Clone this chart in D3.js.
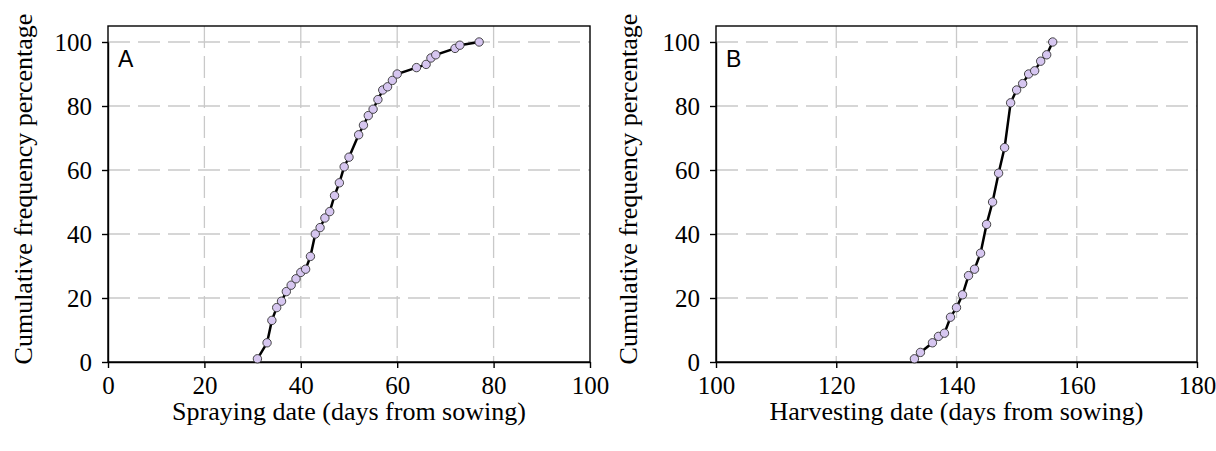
<!DOCTYPE html>
<html>
<head>
<meta charset="utf-8">
<script src="https://cdn.jsdelivr.net/npm/d3@7"></script>
<style>
  body { margin: 0; background: #fff; }
  svg { display: block; }
</style>
</head>
<body>
<div id="chart"></div>
<script>
// panel A: spraying date vs cumulative %
var sprayDays = [31, 33, 34, 35, 36, 37, 38, 39, 40, 41, 42, 43, 44, 45, 46, 47, 48, 49, 50,
                 52, 53, 54, 55, 56, 57, 58, 59, 60, 64, 66, 67, 68, 72, 73, 77];
var sprayCum = [1, 6, 13, 17, 19, 22, 24, 26, 28, 29, 33, 40, 42, 45, 47, 52, 56, 61, 64,
                71, 74, 77, 79, 82, 85, 86, 88, 90, 92, 93, 95, 96, 98, 99, 100];

// panel B: harvesting date vs cumulative %
var harvestDays = [133, 134, 136, 137, 138, 139, 140, 141, 142, 143, 144, 145, 146, 147, 148,
                   149, 150, 151, 152, 153, 154, 155, 156];
var harvestCum = [1, 3, 6, 8, 9, 14, 17, 21, 27, 29, 34, 43, 50, 59, 67,
                  81, 85, 87, 90, 91, 94, 96, 100];

var yTicks = [0, 20, 40, 60, 80, 100];
var sprayTicks = [0, 20, 40, 60, 80, 100];
var harvestTicks = [100, 120, 140, 160, 180];

var W = 1216, H = 451;
var serif = "'Liberation Serif', 'Times New Roman', serif";

var svg = d3.select("#chart").append("svg")
    .attr("width", W)
    .attr("height", H);

function drawPanel(opt) {
    var left = opt.left, right = opt.right, top = 26, bottom = 362;

    var x = d3.scaleLinear().domain(opt.xDomain).range([left, right]);
    var y = d3.scaleLinear().domain([0, 100]).range([bottom, 42]);

    var g = svg.append("g");

    // dashed grid
    g.selectAll(".hgrid")
        .data(yTicks.filter(function(d) { return d > 0; }))
        .enter().append("line")
        .attr("x1", left).attr("x2", right)
        .attr("y1", function(d) { return y(d); })
        .attr("y2", function(d) { return y(d); })
        .attr("stroke", "#c9c9c9")
        .attr("stroke-width", 1.3)
        .attr("stroke-dasharray", "22,8");

    g.selectAll(".vgrid")
        .data(opt.xTicks.slice(1, -1))
        .enter().append("line")
        .attr("y1", top).attr("y2", bottom)
        .attr("x1", function(d) { return x(d); })
        .attr("x2", function(d) { return x(d); })
        .attr("stroke", "#c9c9c9")
        .attr("stroke-width", 1.3)
        .attr("stroke-dasharray", "22,8");

    // frame
    g.append("rect")
        .attr("x", left).attr("y", top)
        .attr("width", right - left).attr("height", bottom - top)
        .attr("fill", "none")
        .attr("stroke", "#000")
        .attr("stroke-width", 1.4);

    // axes
    var xAxis = g.append("g")
        .attr("transform", "translate(0," + bottom + ")")
        .call(d3.axisBottom(x).tickValues(opt.xTicks).tickSize(6).tickSizeOuter(0).tickPadding(8));
    var yAxis = g.append("g")
        .attr("transform", "translate(" + left + ",0)")
        .call(d3.axisLeft(y).tickValues(yTicks).tickSize(6).tickSizeOuter(0).tickPadding(10));

    [xAxis, yAxis].forEach(function(a) {
        a.select(".domain").attr("stroke", "#000").attr("stroke-width", 1.4);
        a.selectAll(".tick line").attr("stroke", "#000").attr("stroke-width", 1.4);
        a.selectAll("text")
            .attr("fill", "#000")
            .style("font-family", serif)
            .style("font-size", "25px");
    });

    // titles
    g.append("text")
        .attr("x", (left + right) / 2)
        .attr("y", 420)
        .attr("text-anchor", "middle")
        .style("font-family", serif)
        .style("font-size", "26px")
        .text(opt.xTitle);

    g.append("text")
        .attr("transform", "translate(" + opt.yTitleX + ",189) rotate(-90)")
        .attr("text-anchor", "middle")
        .style("font-family", serif)
        .style("font-size", "26px")
        .text("Cumulative frequency percentage");

    g.append("text")
        .attr("x", left + 10)
        .attr("y", 67)
        .style("font-family", "'Liberation Sans', Arial, sans-serif")
        .style("font-size", "23px")
        .text(opt.label);

    // curve + markers
    var pts = opt.xs.map(function(d, i) { return {x: d, y: opt.ys[i]}; });

    var line = d3.line()
        .x(function(d) { return x(d.x); })
        .y(function(d) { return y(d.y); });

    g.append("path")
        .datum(pts)
        .attr("fill", "none")
        .attr("stroke", "#000")
        .attr("stroke-width", 2.5)
        .attr("d", line);

    g.selectAll(".pt")
        .data(pts)
        .enter().append("circle")
        .attr("cx", function(d) { return x(d.x); })
        .attr("cy", function(d) { return y(d.y); })
        .attr("r", 4.2)
        .attr("fill", "#d6c6f0")
        .attr("stroke", "#333")
        .attr("stroke-width", 0.9);
}

drawPanel({left: 108, right: 590, xDomain: [0, 100], xTicks: sprayTicks,
           xs: sprayDays, ys: sprayCum, xTitle: "Spraying date (days from sowing)",
           label: "A", yTitleX: 32});
drawPanel({left: 716, right: 1197, xDomain: [100, 180], xTicks: harvestTicks,
           xs: harvestDays, ys: harvestCum, xTitle: "Harvesting date (days from sowing)",
           label: "B", yTitleX: 637});
</script>
</body>
</html>
